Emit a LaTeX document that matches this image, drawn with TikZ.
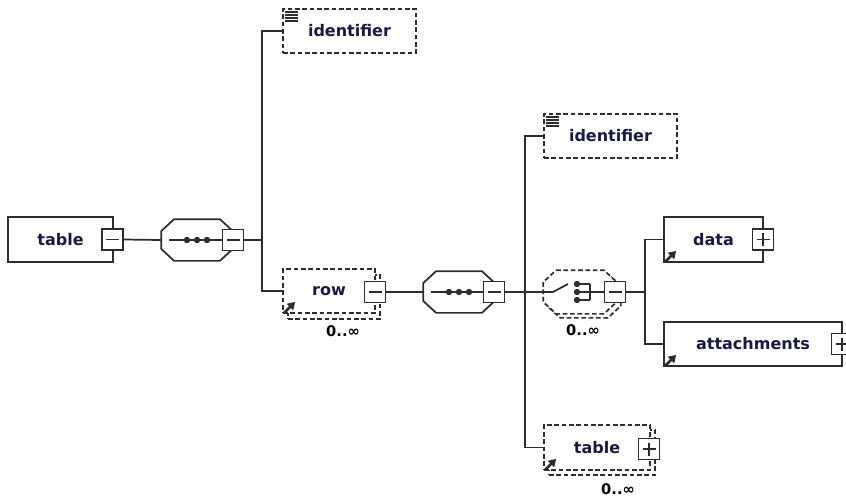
\documentclass[tikz,border=0pt]{standalone}
\usepackage{fontspec}
\setmainfont{DejaVu Sans}
\usetikzlibrary{arrows.meta}

\definecolor{txtblue}{RGB}{25,25,70}
\definecolor{edge}{RGB}{45,45,45}

\tikzset{every picture/.style={line width=1.3pt}}
\tikzset{
  elem/.style={draw=edge, fill=white, inner sep=0pt, font=\bfseries\fontsize{12}{14}\selectfont, text=txtblue},
  optelem/.style={elem, dash pattern=on 3.5pt off 2pt},
  optline/.style={dash pattern=on 3.5pt off 2pt},
  minusbox/.style={draw=edge, fill=white, minimum size=15.75pt, inner sep=0pt,
    path picture={\draw[edge, line width=1.3pt] ([xshift=3pt]path picture bounding box.west) -- ([xshift=-3pt]path picture bounding box.east);}},
  plusbox/.style={minusbox,
    path picture={\draw[edge, line width=1.3pt] ([xshift=3pt]path picture bounding box.west) -- ([xshift=-3pt]path picture bounding box.east);
      \draw[edge, line width=1.3pt] ([yshift=-3pt]path picture bounding box.north) -- ([yshift=3pt]path picture bounding box.south);}},
  compositor/.style={rectangle, inner sep=0pt, minimum width=52.5pt, minimum height=30pt},
  occur/.style={font=\bfseries\fontsize{11}{13}\selectfont, text=black, inner sep=0pt},
  refarrow/.style={edge, line width=2pt, -{Triangle[length=5.5pt, width=6.5pt]}},
  txtline/.style={edge, line width=1.4pt}
}
% octagon round a compositor node
\newcommand{\octo}[2][]{\draw [edge, fill=white, #1] ([shift={(13,0)}]#2.north west) -- ([shift={(-13,0)}]#2.north east)
	-- ([shift={(0,12)}]#2.north east) -- ([shift={(0,-12)}]#2.south east) -- ([shift={(-13,0)}]#2.south east)
	-- ([shift={(13,0)}]#2.south west) -- ([shift={(0,-12)}]#2.south west) -- ([shift={(0,12)}]#2.north west) -- cycle;}

\begin{document}
\begin{tikzpicture}[x=0.75pt,y=0.75pt,yscale=-1,xscale=1]
	\useasboundingbox (0,0) rectangle (846,497);

	%Element: table (root)
	\node [elem, minimum width=78.75pt, minimum height=33.75pt] (table) at (60.5,239.5) {table};
	\node [minusbox] (tablem) at (112.5,239.5) {};

	%Compositor: sequence 1
	\node [compositor] (seq1) at (197,240) {};
	\octo{seq1}
	\node [minusbox] (seq1m) at (233,240) {};
	\draw [edge] ([xshift=6pt]seq1.west) -- (seq1m.west);
	\foreach \dx in {-10,0,10} \fill [edge] ([xshift=\dx*0.75pt]seq1.center) circle (3.2);
	\coordinate (fork1) at (262,240);

	%Element: identifier (optional)
	\node [optelem, minimum width=99.75pt, minimum height=33pt] (ident1) at (349.5,31) {identifier};
	\foreach \k in {0,1,2,3} \draw [txtline] ([shift={(3,4+3*\k)}]ident1.north west) -- ++(13,0);

	%Element: row (optional, repeated)
	\node [optelem, minimum width=69pt, minimum height=33pt] (rowshadow) at (334,297) {};
	\node [optelem, minimum width=69pt, minimum height=33pt] (row) at (329,291) {row};
	\node [minusbox] (rowm) at (375,292) {};
	\draw [refarrow] ([shift={(2,-1)}]row.south west) -- ++(11,-11);
	\node [occur] (rowocc) at (343,331) {0..∞};

	%Compositor: sequence 2
	\node [compositor] (seq2) at (459,292) {};
	\octo{seq2}
	\node [minusbox] (seq2m) at (494,292) {};
	\draw [edge] ([xshift=6pt]seq2.west) -- (seq2m.west);
	\foreach \dx in {-10,0,10} \fill [edge] ([xshift=\dx*0.75pt]seq2.center) circle (3.2);
	\coordinate (fork2) at (525,292);

	%Element: identifier (optional)
	\node [optelem, minimum width=99.75pt, minimum height=33pt] (ident2) at (610.5,136) {identifier};
	\foreach \k in {0,1,2,3} \draw [txtline] ([shift={(3,4+3*\k)}]ident2.north west) -- ++(13,0);

	%Compositor: choice (optional, repeated)
	\node [compositor, minimum width=54pt, minimum height=31.5pt] (choiceshadow) at (584,296) {};
	\octo[optline]{choiceshadow}
	\node [compositor, minimum width=54pt, minimum height=31.5pt] (choice) at (580,292) {};
	\octo[optline]{choice}
	\node [minusbox] (choicem) at (615,292) {};
	\draw [edge] (choice.west) -- (553,292) -- (568,284);
	\foreach \dy in {-8,0,8} {
		\fill [edge] (577,292+\dy) circle (3.2);
		\draw [edge] (577,292+\dy) -- (590,292+\dy);
	}
	\draw [edge] (590,284) -- (590,300);
	\draw [edge] (590,292) -- (choicem.west);
	\node [occur] (choiceocc) at (583,330) {0..∞};
	\coordinate (fork3) at (645,292);

	%Element: data
	\node [elem, minimum width=74.25pt, minimum height=33.75pt] (data) at (713.5,239.5) {data};
	\node [plusbox] (datap) at (763,239.5) {};
	\draw [refarrow] ([shift={(2,-1)}]data.south west) -- ++(11,-11);

	%Element: attachments
	\node [elem, minimum width=133.5pt, minimum height=33pt] (attach) at (753,344) {attachments};
	\node [plusbox] (attachp) at (842,344) {};
	\draw [refarrow] ([shift={(2,-1)}]attach.south west) -- ++(11,-11);

	%Element: table (optional, repeated)
	\node [optelem, minimum width=79.5pt, minimum height=33.75pt] (table2shadow) at (602,452.5) {};
	\node [optelem, minimum width=79.5pt, minimum height=33.75pt] (table2) at (597,447.5) {table};
	\node [plusbox] (table2p) at (649,449) {};
	\draw [refarrow] ([shift={(2,-1)}]table2.south west) -- ++(11,-11);
	\node [occur] (table2occ) at (618,489) {0..∞};

	%Connectors
	\draw [edge] (tablem.east) -- (seq1.west);
	\draw [edge] (seq1m.east) -- (fork1);
	\draw [edge] (fork1) |- (ident1.west);
	\draw [edge] (fork1) |- (row.west);
	\draw [edge] (rowm.east) -- (seq2.west);
	\draw [edge] (seq2m.east) -- (fork2);
	\draw [edge] (fork2) |- (ident2.west);
	\draw [edge] (fork2) -- (choice.west);
	\draw [edge] (fork2) |- (table2.west);
	\draw [edge] (choicem.east) -- (fork3);
	\draw [edge] (fork3) |- (data.west);
	\draw [edge] (fork3) |- (attach.west);

\end{tikzpicture}
\end{document}
